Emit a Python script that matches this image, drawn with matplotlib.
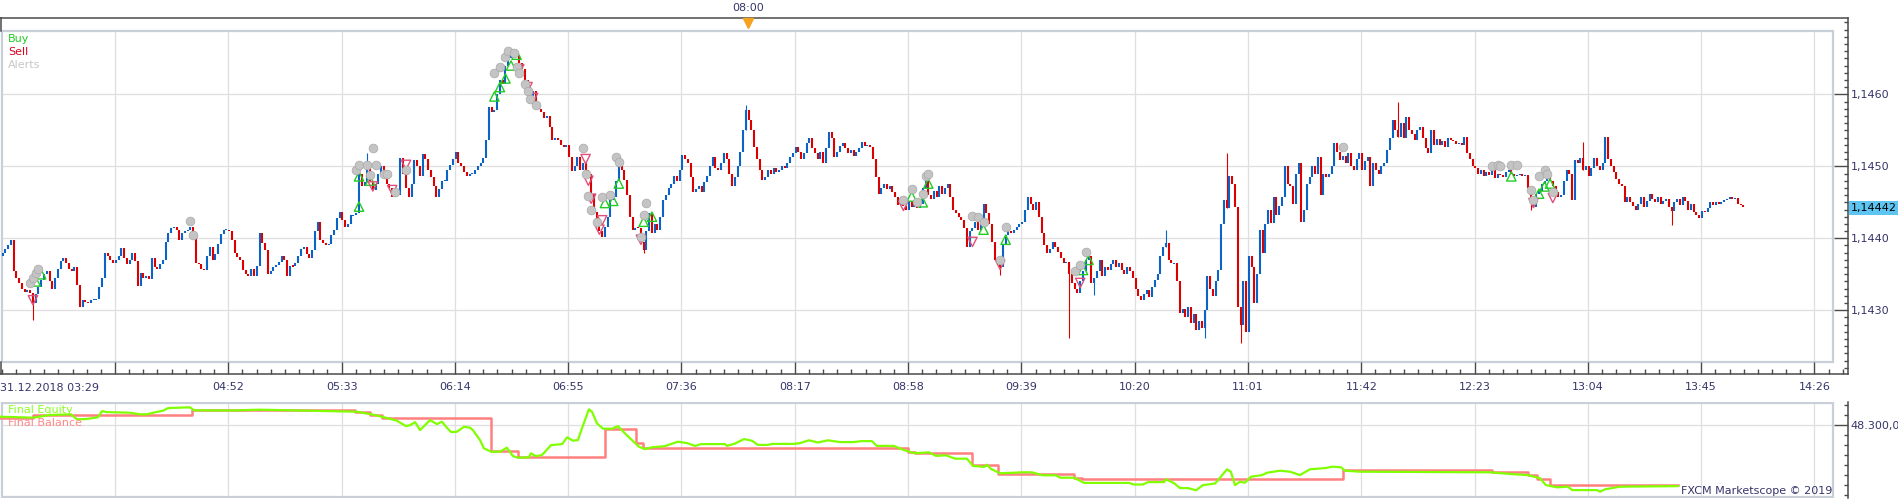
import matplotlib
matplotlib.use("Agg")
import matplotlib.pyplot as plt
import numpy as np
from matplotlib.patches import Rectangle
from matplotlib.ticker import FixedLocator, FuncFormatter
from matplotlib.transforms import blended_transform_factory

# ---------------- data ----------------
# 1-minute closes of EUR/USD, in tenths of a pip relative to 1.1440 (bar 0 = 03:30)
price_base = 1.1440
first_open = -25
close_pts = [
    -21,-15,-10,-2,-45,-55,-62,-70,-74,-72,
    -76,-90,-78,-68,-58,-50,-45,-60,-70,-55,
    -42,-32,-28,-34,-42,-45,-40,-65,-95,-86,
    -88,-90,-86,-85,-84,-68,-55,-21,-25,-30,
    -35,-30,-25,-14,-28,-36,-30,-20,-32,-66,
    -48,-55,-52,-56,-28,-40,-42,-36,-30,-5,
    8,14,16,12,-3,8,10,12,16,2,
    -35,-36,-42,-44,-25,-12,-30,-22,-8,6,
    12,12,10,-2,-20,-26,-30,-44,-49,-53,
    -42,-53,-38,8,-7,-16,-49,-45,-40,-37,
    -33,-25,-30,-53,-38,-39,-35,-25,-15,-12,
    -22,-28,-16,10,23,-2,-6,-10,-8,5,
    12,28,37,25,16,20,32,32,35,90,
    72,78,100,80,67,75,90,100,85,76,
    70,58,62,60,111,90,70,58,75,109,
    100,86,117,110,95,85,72,58,68,80,
    80,95,102,110,120,105,100,92,86,90,
    90,95,100,104,111,137,183,175,178,200,
    220,215,240,250,262,258,255,243,235,220,
    210,197,205,183,180,175,167,170,155,137,
    140,137,130,127,130,113,93,100,113,95,
    105,95,90,62,37,25,10,2,16,30,
    53,58,80,100,95,81,60,30,12,15,
    14,-5,-16,10,35,7,20,12,30,53,
    60,70,76,86,80,95,116,110,104,85,
    65,68,72,65,78,86,100,113,98,95,
    105,118,110,90,72,85,100,120,150,178,
    165,150,127,110,95,81,85,95,90,98,
    92,95,100,98,104,113,118,127,120,110,
    118,132,139,125,118,110,120,104,126,148,
    140,113,120,128,132,125,118,122,115,120,
    125,134,128,130,127,110,85,62,70,76,
    68,72,65,58,46,50,45,40,52,44,
    50,42,48,70,81,60,55,66,58,72,
    62,70,76,58,40,35,30,25,15,-12,
    10,15,22,12,20,48,35,20,-5,-30,
    -35,-40,-10,5,10,7,12,16,20,23,
    40,58,48,40,51,30,7,-10,-21,-15,
    -5,-12,-19,-28,-35,-33,-50,-62,-70,-76,
    -60,-45,-30,-25,-62,-55,-45,-30,-53,-40,
    -44,-36,-30,-40,-35,-44,-49,-40,-45,-55,
    -70,-80,-86,-78,-72,-81,-67,-58,-50,-25,
    -12,-7,-30,-35,-35,-60,-104,-98,-110,-95,
    -118,-105,-127,-115,-125,-100,-53,-70,-80,-60,
    -44,20,53,42,86,76,44,-95,-120,-60,
    -130,-25,-40,-90,-50,12,-21,20,39,21,
    58,32,45,58,100,76,72,48,90,104,
    23,40,76,85,100,90,113,60,90,85,
    90,100,132,120,109,115,104,118,100,95,
    110,118,95,108,113,72,104,95,90,100,
    104,123,140,164,150,141,160,139,169,150,
    145,137,150,155,140,125,118,150,130,138,
    130,135,127,140,136,135,131,132,130,141,
    118,110,100,98,90,95,86,92,88,95,
    84,90,88,85,92,95,90,86,88,90,
    86,88,70,55,44,62,66,76,80,86,
    80,72,65,58,60,80,95,90,53,109,
    104,111,95,100,86,98,111,100,95,105,
    141,110,100,92,83,76,72,51,58,50,
    45,40,48,58,44,52,62,55,50,58,
    48,52,54,44,38,50,55,46,58,52,
    40,48,36,32,28,38,36,42,51,46,
    50,48,50,53,54,58,55,56,48,46,
    44,
]
# long wicks: bar index and extreme (tenths of pip relative to 1.1440)
spike_idx = [11, 132, 232, 269, 361, 386, 395, 421, 435, 443, 448, 505, 553, 572, 604]
spike_val = [-113, 118, -21, 185, -51, -139, -79, 12, -139, 118, -146, 190, 40, 134, 18]

alert_idx = [10,11,12,13,68,69,128,129,132,133,134,135,138,139,142,146,
             178,180,182,183,185,186,187,189,190,191,193,210,211,212,213,215,
             217,220,222,223,231,232,233,326,329,331,333,334,335,351,353,355,
             361,363,388,390,392,485,539,541,542,546,548,553,554,556,558,559,561]
alert_val = [-62,-55,-48,-42,24,5,95,102,102,88,126,102,90,90,65,95,
             230,238,252,260,257,238,229,215,204,194,185,125,90,59,39,23,
             58,60,113,106,2,32,49,53,69,51,62,86,89,31,29,22,
             -30,16,-46,-37,-19,127,100,102,100,102,102,67,53,86,95,90,65]
buy_idx = [12,14,129,129,133,178,180,182,184,186,218,221,223,232,235,329,333,335,355,363,391,393,546,556,558,560]
buy_val = [-60,-50,44,86,80,197,210,222,240,255,49,52,76,23,30,58,50,76,12,-2,-44,-30,86,62,72,76]
sell_idx = [11,134,141,146,187,190,192,211,212,213,216,217,231,326,351,361,390,554,561]
sell_val = [-86,72,67,102,235,210,195,110,80,55,12,25,-2,45,-5,-37,-62,49,56]

price_ticks = [1.1430, 1.1440, 1.1450, 1.1460]
last_price = 1.14442
event_time = "08:00"

# equity panel (minutes after 03:29, account value)
eq_min = [0.4,12.5,18.1,26.1,28.2,31.5,35.8,37.3,39.1,47.2,51.0,53.6,56.5,59.4,61.2,69.1,70.6,
          83.6,94.5,109.0,129.6,136.1,140.8,144.0,147.3,148.8,150.6,152.4,154.2,156.0,158.5,
          160.3,161.8,163.6,165.8,168.3,170.5,171.5,174.1,175.5,178.1,181.3,183.8,186.0,187.8,
          191.8,192.5,194.3,196.5,199.8,203.8,205.6,207.7,209.5,211.4,213.5,214.6,216.4,218.6,
          221.9,224.0,226.5,229.1,231.6,233.8,236.3,241.0,245.7,
          249.0,251.9,254.1,262.7,263.5,266.4,269.6,272.5,274.7,278.3,279.8,287.7,289.9,293.1,
          296.4,300.0,304.4,309.1,312.3,315.9,317.7,323.9,327.5,331.5,336.6,339.1,342.7,346.0,
          350.3,352.5,356.5,357.5,359.0,362.3,365.9,370.2,373.8,377.8,382.5,384.0,389.0,392.7,
          408.9,410.7,414.0,415.8,421.6,422.3,425.2,427.4,430.3,433.2,435.7,440.1,442.2,
          444.4,445.8,447.3,449.1,450.9,453.1,457.1,458.9,463.6,467.2,470.8,
          474.4,479.9,482.4,485.7,487.1,492.5,539.6,547.5,553.3,557.7,559.8,563.8,567.8,569.3,
          578.3,579.4,581.2,586.6,607.6]
eq_val = [48343,48338,48351,48355,48330,48331,48340,48371,48366,48363,48355,48355,48365,48373,48386,48390,48375,
          48374,48378,48374,48368,48351,48335,48323,48296,48301,48316,48276,48301,48326,48306,
          48318,48293,48266,48268,48293,48288,48276,48226,48185,48168,48168,48188,48146,48138,
          48140,48160,48146,48151,48201,48206,48240,48223,48226,48301,48380,48368,48310,48283,
          48283,48296,48260,48226,48193,48181,48190,48196,48218,
          48211,48197,48206,48206,48197,48209,48231,48223,48202,48202,48207,48207,48211,48225,
          48214,48225,48216,48216,48221,48221,48197,48197,48176,48160,48165,48147,48150,48133,
          48133,48097,48092,48103,48082,48060,48062,48065,48065,48050,48050,48038,48038,48012,
          48012,48004,48004,48016,48016,48030,48011,47986,47986,47975,48001,48009,48043,
          48080,48068,48001,48018,48013,48043,48051,48063,48073,48068,48051,
          48080,48086,48093,48090,48073,48068,48065,48056,48051,48035,48001,47990,47993,47976,
          47976,47968,47980,47993,47996]
bal_min = [0.4,12.3,25.3,69.9,128.8,134.3,138.6,178.1,187.8,219.3,230.5,233.1,329.0,331.5,352.1,
           361.5,389.0,392.0,486.4,540.3,553.3,556.6,561.3,607.6]
bal_val = [48338,48350,48353,48376,48366,48350,48336,48171,48143,48283,48210,48188,48168,48160,48099,
           48056,48038,48031,48076,48066,48051,48030,48003,48003]
equity_tick = 48300

# ---------------- layout helpers ----------------
W, H = 1899, 500
PXM = 2.7634      # pixels per minute
X0 = -1.06        # pixel of 03:29
BASE_MIN = 3 * 60 + 29

def mx(px):
    return (px - X0) / PXM

def py(y):
    return price_base + (238.3 - y) * 1.389e-5

def ev(y):
    return equity_tick + (425.3 - y) * 5

def pr(v):
    return price_base + np.asarray(v, dtype=float) * 1e-5

def frect(x0, y0, x1, y1):
    return [x0 / W, 1 - y1 / H, (x1 - x0) / W, (y1 - y0) / H]

DARK = '#4a4a4a'
GRID = '#dfdfdf'
FRAME = '#c8cfd9'
LBL = '#35356a'
UP = '#0a64c8'
DN = '#dd0000'

plt.rcParams['font.family'] = ['DejaVu Sans']
fig = plt.figure(figsize=(W / 100, H / 100), dpi=100)
fig.patch.set_facecolor('white')

# ---------------- price panel ----------------
ax = fig.add_axes(frect(0, 18, 1848, 374))
ax.set_xlim(mx(0), mx(1848))
ax.set_ylim(py(374), py(18))
xl, xr = mx(2), mx(1833)

grid_m = [1 + 41 * k for k in range(1, 17)]
for m in grid_m:
    ax.plot([m, m], [py(362), py(31)], color=GRID, lw=0.9, zorder=0)
for p in price_ticks:
    ax.plot([xl, xr], [p, p], color=GRID, lw=0.9, zorder=0)
ax.add_patch(Rectangle((xl, py(362)), xr - xl, py(31) - py(362), fill=False,
                       ec=FRAME, lw=1.6, zorder=1))

close = pr(close_pts)
open_ = np.r_[pr(first_open), close[:-1]]
t = np.arange(len(close)) + 1.3
lo = np.minimum(open_, close)
hi = np.maximum(open_, close)
minh = 1.6e-5
mid = (lo + hi) / 2
small = (hi - lo) < minh
lo[small] = mid[small] - minh / 2
hi[small] = mid[small] + minh / 2
cols = np.where(close >= open_, UP, DN)
ax.vlines(t, lo, hi, colors=cols, lw=1.5, zorder=3)
for i, v in zip(spike_idx, spike_val):
    pv = float(pr(v))
    ax.vlines(t[i], min(pv, lo[i]), max(pv, hi[i]), colors=cols[i], lw=0.8, zorder=3)

ax.scatter(np.array(alert_idx) + 1.3, pr(alert_val), s=40, c='#c4c4c4',
           edgecolors='#a8a8a8', linewidths=0.5, zorder=6)
ax.scatter(np.array(buy_idx) + 1.3, pr(buy_val), marker='^', s=45,
           facecolors='none', edgecolors='#22cc22', linewidths=1.0, zorder=5)
ax.scatter(np.array(sell_idx) + 1.3, pr(sell_val), marker='v', s=45,
           facecolors='none', edgecolors='#e0507a', linewidths=1.0, zorder=5)

# event marker in top strip
eh, emn = map(int, event_time.split(':'))
em = eh * 60 + emn - BASE_MIN
ax.plot([em], [py(23)], marker='v', color='#f5a21e', ms=6.5, zorder=7, clip_on=False)
ax.text(em, py(8), event_time, ha='center', va='center', fontsize=8, color=LBL, clip_on=False)

# spines
for s in ['top', 'right', 'bottom']:
    ax.spines[s].set_color(DARK)
    ax.spines[s].set_linewidth(1.1)
ax.spines['left'].set_visible(False)
ax.plot([mx(0.6), mx(0.6)], [py(18), py(31)], color=DARK, lw=1.1, clip_on=False)
ax.plot([mx(0.6), mx(0.6)], [py(362), py(374)], color=DARK, lw=1.1, clip_on=False)

def tlabel(m):
    tot = BASE_MIN + m
    return f"{tot // 60:02d}:{tot % 60:02d}"

ax.xaxis.set_major_locator(FixedLocator(grid_m))
ax.set_xticklabels([''] + [tlabel(m) for m in grid_m[1:]])
ax.xaxis.set_minor_locator(FixedLocator(list(np.arange(1, 670, 41 / 8))))
ax.tick_params(axis='x', which='major', direction='in', length=8.6, width=1, color=DARK,
               pad=6, labelsize=8, labelcolor=LBL)
ax.tick_params(axis='x', which='minor', direction='in', length=3.6, width=1, color=DARK)
ax.yaxis.tick_right()
ax.yaxis.set_major_locator(FixedLocator(price_ticks))
ax.yaxis.set_minor_locator(FixedLocator(list(np.round(np.arange(1.1421, 1.1470, 0.0001), 4))))
ax.yaxis.set_major_formatter(FuncFormatter(lambda v, p: f"{v:.4f}".replace('.', ',')))
ax.tick_params(axis='y', which='major', direction='in', length=10, width=1, color=DARK,
               pad=2, labelsize=8, labelcolor=LBL)
ax.tick_params(axis='y', which='minor', direction='in', length=3, width=1, color=DARK)

tr = blended_transform_factory(ax.transAxes, ax.transData)
ax.text(1 + 3 / 1848, last_price, f"{last_price:.5f}".replace('.', ','), transform=tr,
        ha='left', va='center', fontsize=8, color='black', zorder=10, clip_on=False,
        bbox=dict(boxstyle='square,pad=0.18', fc='#5ec5f2', ec='none'))

fig.text(0.5 / W, 1 - 388 / H, '31.12.2018 03:29', ha='left', va='center', fontsize=8, color=LBL)
fig.text(8 / W, 1 - 39 / H, 'Buy', ha='left', va='center', fontsize=8, color='#22cc22')
fig.text(8 / W, 1 - 52 / H, 'Sell', ha='left', va='center', fontsize=8, color='#dd0022')
fig.text(8 / W, 1 - 65 / H, 'Alerts', ha='left', va='center', fontsize=8, color='#c8c8c8')

# ---------------- equity panel ----------------
ax2 = fig.add_axes(frect(0, 402, 1848, 498))
ax2.set_xlim(mx(0), mx(1848))
ax2.set_ylim(ev(498), ev(402))
for m in grid_m:
    ax2.plot([m, m], [ev(498), ev(402)], color=GRID, lw=0.9, zorder=0)
ax2.plot([xl, xr], [equity_tick, equity_tick], color=GRID, lw=0.9, zorder=0)
ax2.add_patch(Rectangle((xl, ev(497.2)), xr - xl, ev(402.8) - ev(497.2), fill=False,
                        ec=FRAME, lw=1.6, zorder=1))
ax2.step(bal_min, bal_val, where='post', color='#ff8080', lw=1.8, zorder=3)
ax2.plot(eq_min, eq_val, color='#80ff00', lw=1.6, zorder=4)
for s in ['top', 'left', 'bottom']:
    ax2.spines[s].set_visible(False)
ax2.spines['right'].set_color(DARK)
ax2.spines['right'].set_linewidth(1.1)
ax2.set_xticks([])
ax2.yaxis.tick_right()
ax2.yaxis.set_major_locator(FixedLocator([equity_tick]))
ax2.yaxis.set_minor_locator(FixedLocator(list(np.arange(47950, 48420, 50))))
ax2.yaxis.set_major_formatter(FuncFormatter(
    lambda v, p: f"{v:,.2f}".replace(',', 'X').replace('.', ',').replace('X', '.')))
ax2.tick_params(axis='y', which='major', direction='in', length=10, width=1, color=DARK,
                pad=2, labelsize=8, labelcolor=LBL)
ax2.tick_params(axis='y', which='minor', direction='in', length=3, width=1, color=DARK)

fig.text(8 / W, 1 - 410 / H, 'Final Equity', ha='left', va='center', fontsize=8, color='#88ff22')
fig.text(8 / W, 1 - 423 / H, 'Final Balance', ha='left', va='center', fontsize=8, color='#ff8888')
fig.text(1832 / W, 1 - 491.5 / H, 'FXCM Marketscope \u00a9 2019', ha='right', va='center',
         fontsize=8, color=LBL)

fig.savefig('out.png', dpi=100, facecolor='white')
